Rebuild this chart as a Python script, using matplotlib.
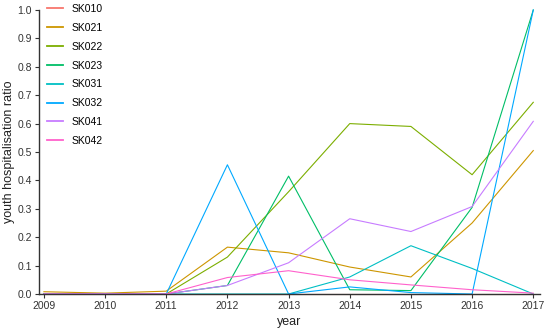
import matplotlib.pyplot as plt

plt.rcParams['font.family'] = ['Liberation Sans', 'DejaVu Sans']

years = [2009, 2010, 2011, 2012, 2013, 2014, 2015, 2016, 2017]
regions = ['SK010', 'SK021', 'SK022', 'SK023', 'SK031', 'SK032', 'SK041', 'SK042']
colors = ['#F8766D', '#CD9600', '#7CAE00', '#00BE67',
          '#00BFC4', '#00A9FF', '#C77CFF', '#FF61CC']

sk010 = [0, 0, 0, 0, 0, 0, 0, 0, 0]
sk021 = [0.008, 0.003, 0.01, 0.165, 0.145, 0.095, 0.06, 0.25, 0.505]
sk022 = [0, 0, 0, 0.13, 0.36, 0.60, 0.59, 0.42, 0.675]
sk023 = [0, 0, 0, 0.03, 0.415, 0.015, 0.012, 0.305, 1.0]
sk031 = [0, 0, 0, 0, 0, 0.06, 0.17, 0.09, 0]
sk032 = [0, 0, 0, 0.455, 0, 0.025, 0.005, 0, 1.0]
sk041 = [0, 0, 0, 0.03, 0.11, 0.265, 0.22, 0.308, 0.608]
sk042 = [0, 0, 0, 0.058, 0.082, 0.05, 0.032, 0.015, 0.003]
values = [sk010, sk021, sk022, sk023, sk031, sk032, sk041, sk042]

fig = plt.figure(figsize=(5.5, 3.32), dpi=100)
ax = fig.add_axes([39 / 550, 38 / 332, 501 / 550, 284 / 332])

for name, col, v in zip(regions, colors, values):
    ax.plot(years, v, color=col, lw=0.8, label=name, clip_on=False)

ax.set_xlim(2008.92, 2017.11)
ax.set_ylim(0, 1.0)
ax.set_xticks(years)
ax.set_yticks([i / 10 for i in range(11)])
ax.set_yticklabels(['%.1f' % (i / 10) for i in range(11)])
for s in ['top', 'right']:
    ax.spines[s].set_visible(False)
for s in ['left', 'bottom']:
    ax.spines[s].set_color('#333333')
    ax.spines[s].set_linewidth(1.0)
ax.tick_params(colors='#333333', labelsize=7.5, length=3, width=0.8, pad=2)
ax.set_xlabel('year', fontsize=9, color='#222222', labelpad=4)
ax.set_ylabel('youth hospitalisation ratio', fontsize=9, color='#222222', labelpad=2)

leg = fig.legend(loc='upper left', bbox_to_anchor=(47 / 550, 328 / 332),
                 frameon=False, fontsize=7.5, handlelength=1.5, handletextpad=0.9,
                 labelspacing=0.85, borderpad=0, borderaxespad=0)
for h in leg.legend_handles:
    h.set_linewidth(1.3)

fig.savefig('out.png', dpi=100, facecolor='white')
